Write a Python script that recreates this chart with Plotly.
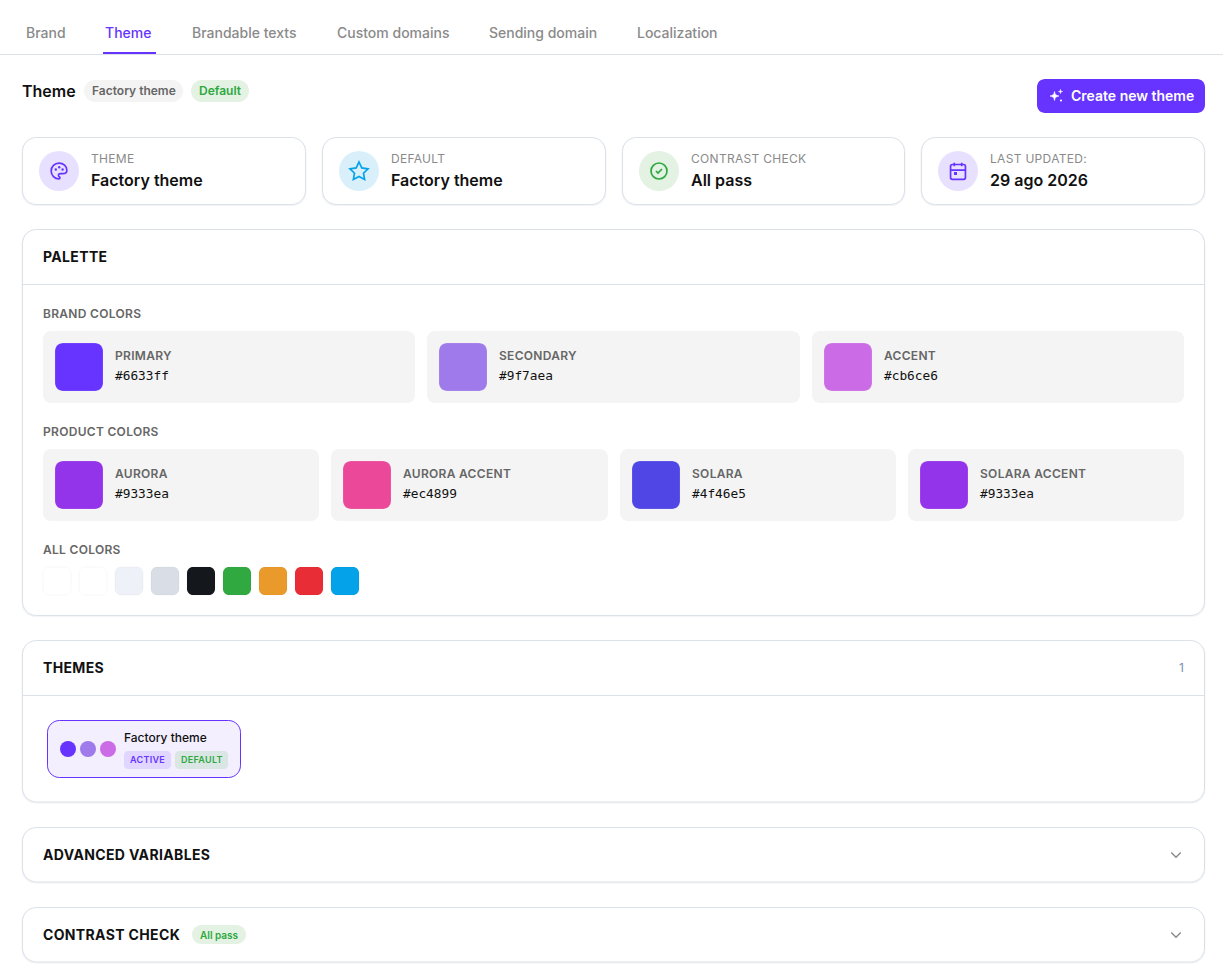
import plotly.graph_objects as go

W, H = 1223, 980
PURPLE = "#6633ff"
BORDER = "#dce1e8"
GREEN = "#2ea83f"

tabs = ["Brand", "Theme", "Brandable texts", "Custom domains", "Sending domain", "Localization"]
tab_x = [26, 104.5, 192, 336.5, 489, 637]
stat_labels = ["THEME", "DEFAULT", "CONTRAST CHECK", "LAST UPDATED:"]
stat_values = ["Factory theme", "Factory theme", "All pass", "29 ago 2026"]
stat_x0 = [22, 322, 622, 921]
stat_x1 = [306, 606, 905, 1205]
stat_bg = ["#e8e0ff", "#d9f0fb", "#e3f2e3", "#e8e0ff"]
stat_fg = [PURPLE, "#04a2e8", GREEN, PURPLE]
brand_names = ["PRIMARY", "SECONDARY", "ACCENT"]
brand_hex = ["#6633ff", "#9f7aea", "#cb6ce6"]
brand_x0 = [43, 427, 812]
brand_x1 = [415, 800, 1184]
product_names = ["AURORA", "AURORA ACCENT", "SOLARA", "SOLARA ACCENT"]
product_hex = ["#9333ea", "#ec4899", "#4f46e5", "#9333ea"]
product_x0 = [43, 331, 620, 908]
product_x1 = [319, 608, 896, 1184]
all_colors = ["#ffffff", "#ffffff", "#eef2f8", "#d9dee6", "#14181d", "#30a941", "#e99a2b", "#e92d36", "#04a2e8"]
all_x = [43, 79, 115, 151, 187, 223, 259, 295, 331]

shapes, notes = [], []


def rr(x0, y0, x1, y1, r, fill="rgba(0,0,0,0)", line=None, lw=1):
    k = r * 0.45
    p = (f"M{x0+r},{y0} L{x1-r},{y0} C{x1-k},{y0} {x1},{y0+k} {x1},{y0+r} "
         f"L{x1},{y1-r} C{x1},{y1-k} {x1-k},{y1} {x1-r},{y1} "
         f"L{x0+r},{y1} C{x0+k},{y1} {x0},{y1-k} {x0},{y1-r} "
         f"L{x0},{y0+r} C{x0},{y0+k} {x0+k},{y0} {x0+r},{y0} Z")
    shapes.append(dict(type="path", path=p, xref="x", yref="y", fillcolor=fill,
                       line=dict(color=line or "rgba(0,0,0,0)", width=lw if line else 0)))


def card(x0, y0, x1, y1, r=14):
    rr(x0 - 0.5, y0 + 0.5, x1 + 0.5, y1 + 1.5, r, fill="#f2f4f7")
    rr(x0 + 0.5, y0 + 0.5, x1 - 0.5, y1, r, fill="#ffffff", line=BORDER)


def hline(x0, x1, y, color=BORDER, lw=1):
    shapes.append(dict(type="line", x0=x0, x1=x1, y0=y, y1=y, xref="x", yref="y",
                       line=dict(color=color, width=lw)))


def circ(cx, cy, r, fill, line=None, lw=0):
    shapes.append(dict(type="circle", x0=cx - r, x1=cx + r, y0=cy - r, y1=cy + r, xref="x", yref="y",
                       fillcolor=fill, line=dict(color=line or "rgba(0,0,0,0)", width=lw)))


def icon(cmds, cx, cy, color, s=1.0, lw=1.7, fill="rgba(0,0,0,0)"):
    out, n = [], 0
    for tok in cmds.split():
        if tok[0].isalpha():
            out.append(tok[0])
            tok = tok[1:]
            if not tok:
                continue
            n = 0
        v = float(tok)
        v = (cx + (v - 12) * s) if n % 2 == 0 else (cy + (v - 12) * s)
        out.append(f"{v:.2f}" + ("," if n % 2 == 0 else " "))
        n += 1
    shapes.append(dict(type="path", path="".join(out), xref="x", yref="y", fillcolor=fill,
                       line=dict(color=color, width=lw)))


def txt(x, y, s, size=12, color="#111111", weight=400, family="Inter", anchor="left", spacing=None):
    if spacing:
        s = f'<span style="letter-spacing:{spacing}px">{s}</span>'
    notes.append(dict(x=x, y=y, text=s, xref="x", yref="y", showarrow=False, xanchor=anchor, yanchor="middle",
                      borderpad=0, borderwidth=0, align="left",
                      font=dict(size=size, color=color, family=family, weight=weight)))


SPARK = "M12 6 C12.6 10 14 11.4 18 12 C14 12.6 12.6 14 12 18 C11.4 14 10 12.6 6 12 C10 11.4 11.4 10 12 6 Z"

# tabs
for t, x in zip(tabs, tab_x):
    txt(x, 32, t, 14, PURPLE if t == "Theme" else "#8a8a8a", 500)
hline(0, W, 54.5)
shapes.append(dict(type="rect", x0=103, x1=156, y0=52, y1=54, xref="x", yref="y", fillcolor=PURPLE, line=dict(width=0)))

# heading row
txt(22, 91, "Theme", 16, "#111111", 600)
rr(84, 80, 183, 102, 11, "#f4f4f4")
txt(92, 90.5, "Factory theme", 12, "#666666", 600)
rr(191, 80, 249, 102, 11, "#e3f2e3")
txt(199, 90.5, "Default", 12, GREEN, 600)
rr(1037, 79, 1205, 113, 8, PURPLE)
txt(1071, 95.5, "Create new theme", 14, "#ffffff", 600)
icon(SPARK, 1054.5, 96, "#ffffff", 0.75, 0.6, "#ffffff")
icon(SPARK, 1060.5, 91.5, "#ffffff", 0.35, 0.5, "#ffffff")
circ(1061, 100.5, 1.1, "#ffffff")

# stat cards
for i in range(4):
    x0 = stat_x0[i]
    card(x0, 137, stat_x1[i], 204.5)
    cx = x0 + 37
    circ(cx, 171, 20, stat_bg[i])
    txt(x0 + 69, 158.5, stat_labels[i], 12, "#8a8a8a", 400, spacing=0.3)
    txt(x0 + 69, 179.5, stat_values[i], 16, "#111111", 600)
    fg = stat_fg[i]
    if i == 0:
        icon("M12 21 C7 21 3 17 3 12 C3 7 7 3 12 3 C17 3 21 6.6 21 11 C21 13.5 19 15 16.5 15 L14 15 C12 15 11 16 11.5 17.5 C12 18.5 13.5 19 13 20 C13 20.7 12.6 21 12 21 Z", cx, 171, fg, 0.87)
        for dx, dy in [(-3.2, -1.5), (0.2, -3.8), (3.6, -1.5)]:
            circ(cx + dx, 171 + dy, 1.2, fg)
    elif i == 1:
        icon("M12 3 L14.8 8.9 L21 9.8 L16.5 14.2 L17.6 20.4 L12 17.5 L6.4 20.4 L7.5 14.2 L3 9.8 L9.2 8.9 Z", cx, 171, fg)
    elif i == 2:
        circ(cx, 171, 8, "rgba(0,0,0,0)", fg, 1.7)
        icon("M9 12 L11 14 L15 10", cx, 171, fg, 1, 1.7)
    else:
        icon("M6 5 L18 5 C19.1 5 20 5.9 20 7 L20 19 C20 20.1 19.1 21 18 21 L6 21 C4.9 21 4 20.1 4 19 L4 7 C4 5.9 4.9 5 6 5 Z M16 3 L16 7 M8 3 L8 7 M4 11 L20 11", cx, 171, fg, 0.93)
        shapes.append(dict(type="rect", x0=cx - 4, x1=cx - 1, y0=172, y1=175, xref="x", yref="y", fillcolor=fg, line=dict(width=0)))

# palette card
card(22, 229, 1205, 615.5)
hline(23, 1204, 284.5)
txt(43, 256.5, "PALETTE", 14, "#111111", 700, spacing=0.35)
txt(43, 313.5, "BRAND COLORS", 12, "#666666", 600, spacing=0.3)
for i in range(3):
    rr(brand_x0[i], 331, brand_x1[i], 403, 8, "#f4f4f4")
    sx = brand_x0[i] + 12
    rr(sx, 343, sx + 48, 391, 8, brand_hex[i], "rgba(255,255,255,0.15)", 1)
    txt(sx + 60, 355.5, brand_names[i], 12, "#666666", 600, spacing=0.3)
    txt(sx + 60, 375.5, brand_hex[i], 12.8, "#111111", 400, "DejaVu Sans Mono")
txt(43, 431.5, "PRODUCT COLORS", 12, "#666666", 600, spacing=0.3)
for i in range(4):
    rr(product_x0[i], 449, product_x1[i], 521, 8, "#f4f4f4")
    sx = product_x0[i] + 12
    rr(sx, 461, sx + 48, 509, 8, product_hex[i], "rgba(255,255,255,0.15)", 1)
    txt(sx + 60, 473.5, product_names[i], 12, "#666666", 600, spacing=0.3)
    txt(sx + 60, 493.5, product_hex[i], 12.8, "#111111", 400, "DejaVu Sans Mono")
txt(43, 549.5, "ALL COLORS", 12, "#666666", 600, spacing=0.3)
for x, c in zip(all_x, all_colors):
    rr(x, 567, x + 28, 595, 6, c, "rgba(0,0,0,0.03)", 1)

# themes card
card(22, 640, 1205, 802)
hline(23, 1204, 695.5)
txt(43, 667, "THEMES", 14, "#111111", 700, spacing=0.35)
txt(1184, 667, "1", 12, "#7a8fb5", 400, anchor="right")
rr(47.5, 720.5, 240.5, 777.5, 12, "#f3effe", PURPLE, 1)
for cx, c in zip([68, 88, 108], brand_hex):
    circ(cx, 749, 8, c)
txt(124, 737.5, "Factory theme", 12, "#111111", 500)
rr(124, 751, 171, 769, 4, "#e0d6ff")
txt(130, 759.5, "ACTIVE", 9, PURPLE, 600, spacing=0.3)
rr(175, 751, 228, 769, 4, "#d9e6e3")
txt(181, 759.5, "DEFAULT", 9, GREEN, 600, spacing=0.3)

# collapsed cards
card(22, 827, 1205, 882)
txt(43, 854.5, "ADVANCED VARIABLES", 14, "#111111", 700, spacing=0.35)
card(22, 907, 1205, 962)
txt(43, 934.5, "CONTRAST CHECK", 14, "#111111", 700, spacing=0.35)
rr(192, 925, 246, 944, 9.5, "#e3f2e3")
txt(200, 934.5, "All pass", 10, GREEN, 600)
for cy in (855, 935):
    icon("M7 10 L12 15 L17 10", 1176, cy - 0.5, "#8a8a8a", 0.95, 1.4)

fig = go.Figure(go.Scatter(x=[0, W], y=[0, H], mode="markers", marker=dict(opacity=0), hoverinfo="skip", showlegend=False))
fig.update_layout(width=W, height=H, autosize=False, margin=dict(l=0, r=0, t=0, b=0),
                  paper_bgcolor="#ffffff", plot_bgcolor="#ffffff",
                  xaxis=dict(range=[0, W], visible=False, fixedrange=True),
                  yaxis=dict(range=[H, 0], visible=False, fixedrange=True),
                  shapes=shapes, annotations=notes, showlegend=False)
fig.write_html("out.html", config=dict(displayModeBar=False),
               post_script="document.body.style.margin='0';document.body.style.overflow='hidden';")
